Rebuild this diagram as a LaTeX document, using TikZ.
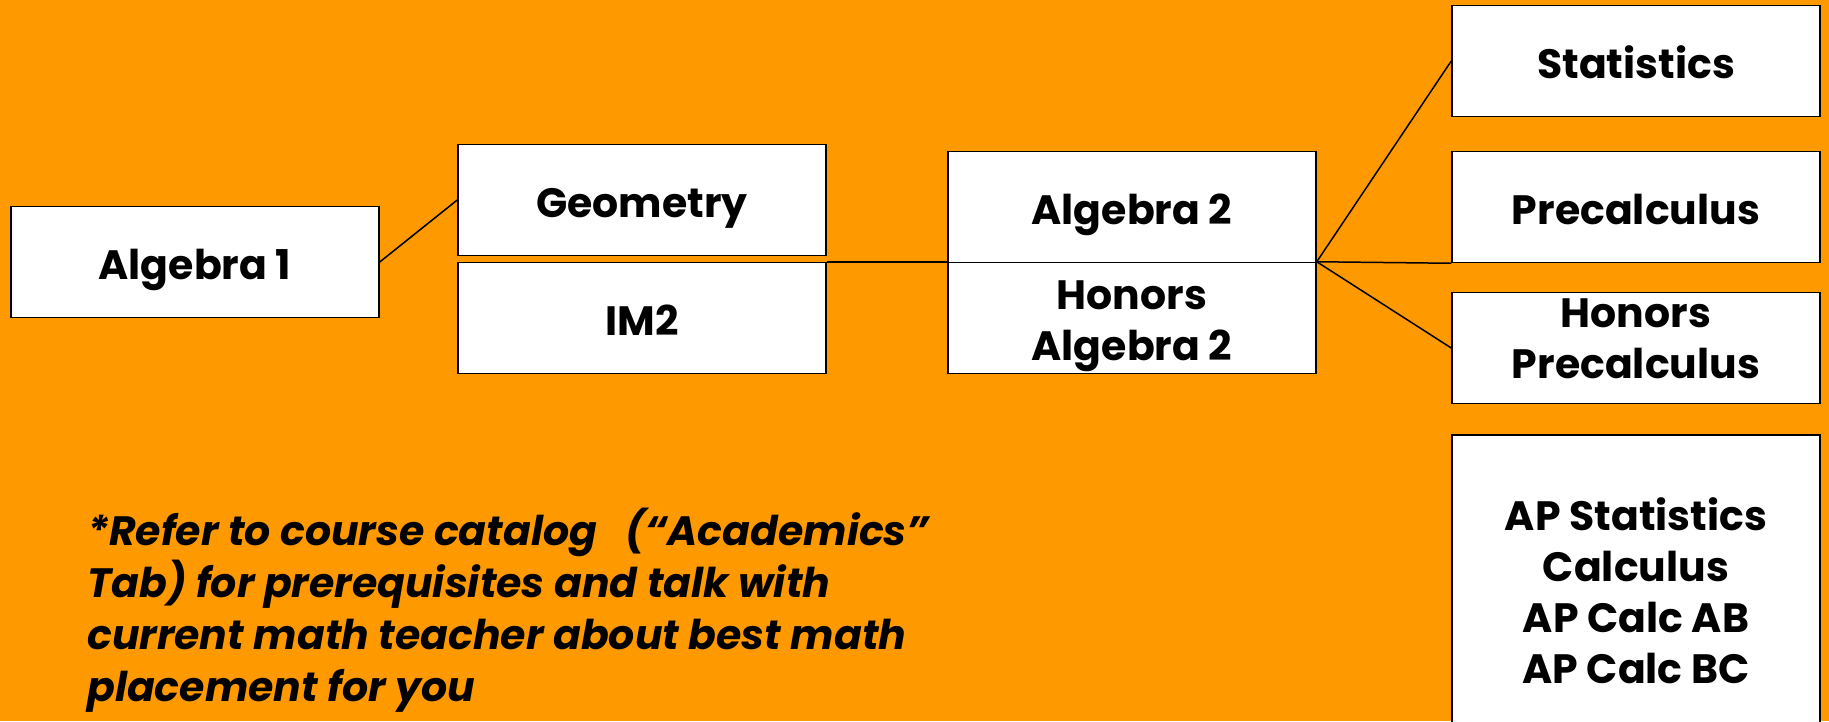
\documentclass[tikz,border=0pt]{standalone}
\usepackage{fontspec}
\setmainfont{Poppins}
\definecolor{bgorange}{RGB}{255,153,0}

\begin{document}
\begin{tikzpicture}[
    x=1pt, y=-1pt,
    box/.style={draw=black, fill=white, line width=1.5pt, minimum width=368pt,
        minimum height=111pt, inner sep=0pt, align=center,
        text height=34pt, text depth=0pt,
        font=\fontsize{41}{51}\selectfont\bfseries},
    edge/.style={line width=1.5pt},
    note/.style={anchor=north west, align=left, inner sep=0pt,
        font=\fontsize{41}{52}\selectfont\bfseries\itshape}
]
\useasboundingbox (0,0) rectangle (1829,721);
\fill[bgorange] (0,0) rectangle (1829,721);

\node[box] (alg1)  at (195,262)  {Algebra 1};
\node[box] (geo)   at (642,200)  {Geometry};
\node[box] (im2)   at (642,318)  {IM2};
\node[box] (alg2)  at (1132,207) {Algebra 2};
\node[box, text height=84pt] (halg2) at (1132,318) {Honors\\Algebra 2};

\node[box] (stats)    at (1636,61)  {Statistics};
\node[box] (precalc)  at (1636,207) {Precalculus};
\node[box, text height=61pt] (hprecalc) at (1636,348) {Honors\\Precalculus};
\node[box, minimum height=292pt, text height=205pt] (ap) at (1636,581)
    {AP Statistics\\Calculus\\AP Calc AB\\AP Calc BC};

\draw[edge] (alg1.east) -- (geo.west);
\draw[edge] (im2.north east) -- (halg2.north west);
\draw[edge] (halg2.north east) -- (stats.west);
\draw[edge] (halg2.north east) -- (precalc.south west);
\draw[edge] (halg2.north east) -- (hprecalc.west);

\node[note] (ref) at (87,508)
    {*Refer to course catalog \ \ (“Academics”\\
     Tab) for prerequisites and talk with\\
     current math teacher about best math\\
     placement for you};

\end{tikzpicture}
\end{document}
